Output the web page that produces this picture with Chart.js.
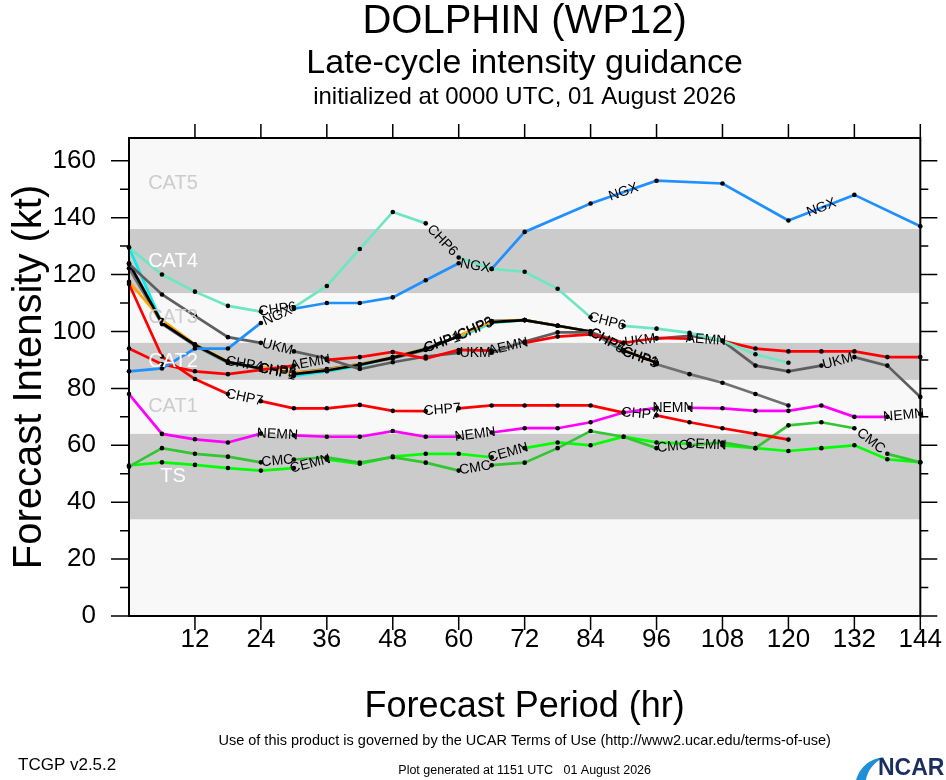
<!DOCTYPE html>
<html>
<head>
<meta charset="utf-8">
<title>DOLPHIN (WP12) late-cycle intensity guidance</title>
<script src="https://cdn.jsdelivr.net/npm/chart.js@4.4.1/dist/chart.umd.min.js"></script>
<style>
html,body{margin:0;padding:0;background:#fff;}
canvas{display:block;}
</style>
</head>
<body>
<canvas id="chart" width="946" height="780"></canvas>
<script>
// forecast hours (every 6 h) and axis ticks
const HOURS   = [0,6,12,18,24,30,36,42,48,54,60,66,72,78,84,90,96,102,108,114,120,126,132,138,144];
const X_TICKS = [12,24,36,48,60,72,84,96,108,120,132,144];
const Y_TICKS = [0,20,40,60,80,100,120,140,160];
const Y_MINOR = [10,30,50,70,90,110,130,150];

// Saffir-Simpson bands (kt)
const BAND_NAMES = ['TS','CAT1','CAT2','CAT3','CAT4','CAT5'];
const BAND_LOW   = [34, 64, 83, 96, 113.5, 136];
const BAND_HIGH  = [64, 83, 96, 113.5, 136, 168];

// intensity guidance (kt), null = no value at that hour
const NGX  = [86,87,94,94,103,108,110,110,112,118,124,122,135,null,145,null,153,null,152,null,139,null,148,null,137];
const CHP6 = [129.5,120,114,109,107,108.5,116,129,142,138,126,122,121,115,105,102,101,99.5,96.7,92,89,null,null,null,null];
const UKM  = [123.7,113,105.5,98,96,93,90.5,86.8,89.2,91.2,92.5,92.5,96.5,99.7,99.7,96,97.5,98.5,96.7,88,86,88,91,88,77];
const AEMN = [94,88.5,86,85,86.5,88,90,91,92.8,90.5,93.5,93.3,96,98.2,99,96,97.7,97.5,96.7,94,93,93,93,91,91];
const CHP7 = [116.7,91.2,83.3,78,75.5,73,73,74.2,72.1,72,73,74,74,74,74,71.5,70.5,68.1,66,64,62,null,null,null,null];
const NEMN = [78,64,62.1,61,64.1,63.5,63,63,65,63,63,64.5,66,66,68.1,71.5,73.2,73.2,73,72.1,72.1,74,70,70,71];
const CMC  = [52.5,59,57,56,54,55,55.8,53.9,55.8,53.9,51.1,53,53.9,59,65,63,59,60,61,59,67,68.1,66,57,54];
const CEMN = [52.9,54,53.1,52,51.1,52,55,53.5,56,57,57,55.8,59,61,60,63,61,60.5,60,59,58,59,60,55.1,54];
const CHP1 = [129.5,103,95,89,87,84.4,86,88,91,94,98,103,104,102,100,93,89,null,null,null,null,null,null,null,null];
const CHP3 = [122.2,102.6,95,89,87,85.5,86.8,88.5,90.5,93.5,98.5,103.7,104,102,100,93,88.5,85,82,78,74,null,null,null,null];
const CHP4 = [117.5,104,95.5,89.5,87.5,85.5,86.5,88.5,91,94,98.5,103.5,104,102,100,93.5,89,null,null,null,null,null,null,null,null];
const CHP5 = [124,103,95.3,89.3,87,85,86.3,88.3,90.8,93.8,98.3,103.3,104,102,100,93.3,89,null,null,null,null,null,null,null,null];

// name, values, colour, hours where an in-line label starts
const MODELS = [
  ['NGX',  NGX,  '#1e90ff', [24,60,84,120]],
  ['CHP6', CHP6, '#6ee6c4', [24,54,84]],
  ['CHP7', CHP7, '#ff0000', [18,54,90]],
  ['NEMN', NEMN, '#ff00ff', [24,60,96,138]],
  ['CMC',  CMC,  '#33c633', [24,60,96,132]],
  ['CEMN', CEMN, '#00ff00', [30,66,102]],
  ['AEMN', AEMN, '#ff0000', [30,66,102]],
  ['UKM',  UKM,  '#5e5e5e', [24,60,90,126]],
  ['CHP5', CHP5, '#000000', [24,60,84]],
  ['CHP4', CHP4, '#ffa500', [18,54,84]],
  ['CHP3', CHP3, '#707070', [24,60,90]],
  ['CHP1', CHP1, '#00eeee', [24,54,90]],
];

const FONT = "'Liberation Sans', Arial, Helvetica, sans-serif";
const LABEL_FONT = '14px ' + FONT;
const mctx = document.createElement('canvas').getContext('2d');
mctx.font = LABEL_FONT;
function textW(t){ return mctx.measureText(t).width; }

// leave a gap in the labelled segment, label gets drawn in it later
function gapDash(name, hrs){
  return ctx => {
    if(!hrs.includes(HOURS[ctx.p0DataIndex])) return undefined;
    const L = Math.hypot(ctx.p1.x-ctx.p0.x, ctx.p1.y-ctx.p0.y);
    const g = textW(name) + 6;
    const l = (L-g)/2;
    return l > 0 ? [l, g] : [0, L+10];
  };
}

const datasets = MODELS.map(([name, vals, col, hrs]) => ({
  label: name,
  data: HOURS.map((h,i)=>({x:h, y:vals[i]})),
  borderColor: col,
  borderWidth: 2.7,
  pointRadius: 2.3,
  pointBackgroundColor: '#000',
  pointBorderWidth: 0,
  tension: 0,
  spanGaps: true,
  clip: false,
  labelAt: hrs,
  segment: { borderDash: gapDash(name, hrs) }
}));

const bandsPlugin = {
  id: 'bands',
  beforeDraw(chart){
    const {ctx, chartArea:a, scales:{y}} = chart;
    ctx.save();
    ctx.fillStyle = '#f8f8f8';
    ctx.fillRect(a.left, a.top, a.right-a.left, a.bottom-a.top);
    BAND_NAMES.forEach((nm,i)=>{
      if(i % 2 !== 0) return;
      const yt = y.getPixelForValue(BAND_HIGH[i]), yb = y.getPixelForValue(BAND_LOW[i]);
      ctx.fillStyle = '#cbcbcb';
      ctx.fillRect(a.left, yt, a.right-a.left, yb-yt);
    });
    ctx.restore();
  }
};

const labelPlugin = {
  id: 'lineLabels',
  afterDatasetsDraw(chart){
    const c = chart.ctx;
    const {chartArea:a, scales:{y}} = chart;
    c.save();
    // band names sit on top of the lines
    c.font = '20px ' + FONT;
    c.textAlign = 'center'; c.textBaseline = 'middle';
    BAND_NAMES.forEach((nm,i)=>{
      const yt = y.getPixelForValue(BAND_HIGH[i]), yb = y.getPixelForValue(BAND_LOW[i]);
      c.fillStyle = i % 2 === 0 ? '#ffffff' : '#cccccc';
      c.fillText(nm, a.left + 44, (yt+yb)/2);
    });
    c.font = LABEL_FONT; c.fillStyle = '#000';
    chart.data.datasets.forEach((ds, di)=>{
      const meta = chart.getDatasetMeta(di);
      ds.labelAt.forEach(h=>{
        const i = HOURS.indexOf(h);
        let j = i+1;
        while(j < HOURS.length && ds.data[j].y == null) j++;
        if(i < 0 || j >= HOURS.length || ds.data[i].y == null) return;
        const p0 = meta.data[i], p1 = meta.data[j];
        const ang = Math.atan2(p1.y-p0.y, p1.x-p0.x);
        c.save();
        c.translate((p0.x+p1.x)/2, (p0.y+p1.y)/2);
        c.rotate(ang);
        c.fillText(ds.label, 0, 0);
        c.restore();
      });
    });
    c.restore();
  }
};

const framePlugin = {
  id: 'frame',
  afterDraw(chart){
    const {ctx, chartArea:a, scales:{x, y}} = chart;
    ctx.save();
    ctx.strokeStyle = '#000';
    ctx.lineWidth = 1.5;
    ctx.beginPath();
    Y_TICKS.forEach(v=>{
      const py = y.getPixelForValue(v);
      ctx.moveTo(a.left-18, py); ctx.lineTo(a.left, py);
      ctx.moveTo(a.right, py); ctx.lineTo(a.right+17, py);
    });
    Y_MINOR.forEach(v=>{
      const py = y.getPixelForValue(v);
      ctx.moveTo(a.left-9, py); ctx.lineTo(a.left, py);
      ctx.moveTo(a.right, py); ctx.lineTo(a.right+8, py);
    });
    X_TICKS.forEach(v=>{
      const px = x.getPixelForValue(v);
      ctx.moveTo(px, a.bottom); ctx.lineTo(px, a.bottom+14);
      ctx.moveTo(px, a.top); ctx.lineTo(px, a.top-14);
    });
    ctx.stroke();
    ctx.lineWidth = 2;
    ctx.strokeRect(a.left, a.top, a.right-a.left, a.bottom-a.top);

    // titles and footer
    const cx = (a.left+a.right)/2;
    ctx.fillStyle = '#000';
    ctx.textAlign = 'center'; ctx.textBaseline = 'alphabetic';
    ctx.font = '40px ' + FONT; ctx.fillText('DOLPHIN (WP12)', cx, 33);
    ctx.font = '34px ' + FONT; ctx.fillText('Late-cycle intensity guidance', cx, 73);
    ctx.font = '24px ' + FONT; ctx.fillText('initialized at 0000 UTC, 01 August 2026', cx, 104);
    ctx.textBaseline = 'middle';
    ctx.font = '36px ' + FONT; ctx.fillText('Forecast Period (hr)', cx, 707);
    ctx.save();
    ctx.translate(30, (a.top+a.bottom)/2);
    ctx.rotate(-Math.PI/2);
    ctx.font = '40px ' + FONT; ctx.fillText('Forecast Intensity (kt)', 0, 0);
    ctx.restore();
    ctx.font = '14.5px ' + FONT;
    ctx.fillText('Use of this product is governed by the UCAR Terms of Use (http://www2.ucar.edu/terms-of-use)', cx, 741);
    ctx.font = '12.5px ' + FONT;
    ctx.fillText('Plot generated at 1151 UTC   01 August 2026', cx, 771);
    ctx.textAlign = 'left';
    ctx.font = '17px ' + FONT;
    ctx.fillText('TCGP v2.5.2', 18, 765);
    // NCAR mark
    ctx.fillStyle = '#1f8fd6';
    ctx.beginPath();
    ctx.moveTo(856, 780); ctx.quadraticCurveTo(862, 760, 884, 757);
    ctx.quadraticCurveTo(868, 766, 866, 780); ctx.closePath(); ctx.fill();
    ctx.fillStyle = '#1b2f5e';
    ctx.font = 'bold 23px ' + FONT;
    ctx.fillText('NCAR', 878, 769);
    ctx.restore();
  }
};

new Chart(document.getElementById('chart'), {
  type: 'line',
  data: { datasets },
  options: {
    responsive: false,
    animation: false,
    layout: { padding: { top: 138, right: 23, bottom: 0, left: 0 } },
    plugins: { legend: { display: false }, tooltip: { enabled: false }, title: { display: false } },
    scales: {
      x: {
        type: 'linear', min: 0, max: 144,
        afterFit: s => { s.height = 164; },
        afterBuildTicks: s => { s.ticks = X_TICKS.map(v=>({value:v})); },
        grid: { drawOnChartArea: false, drawTicks: true, tickLength: 4, color: 'rgba(0,0,0,0)' },
        border: { display: false },
        ticks: { color: '#000', font: { family: FONT, size: 26 }, padding: 4, maxRotation: 0, autoSkip: false }
      },
      y: {
        type: 'linear', min: 0, max: 168,
        afterFit: s => { s.width = 129; },
        afterBuildTicks: s => { s.ticks = Y_TICKS.map(v=>({value:v})); },
        grid: { drawOnChartArea: false, drawTicks: true, tickLength: 18, color: 'rgba(0,0,0,0)' },
        border: { display: false },
        ticks: { color: '#000', font: { family: FONT, size: 26 }, padding: 15 }
      }
    }
  },
  plugins: [bandsPlugin, labelPlugin, framePlugin]
});
</script>
</body>
</html>
